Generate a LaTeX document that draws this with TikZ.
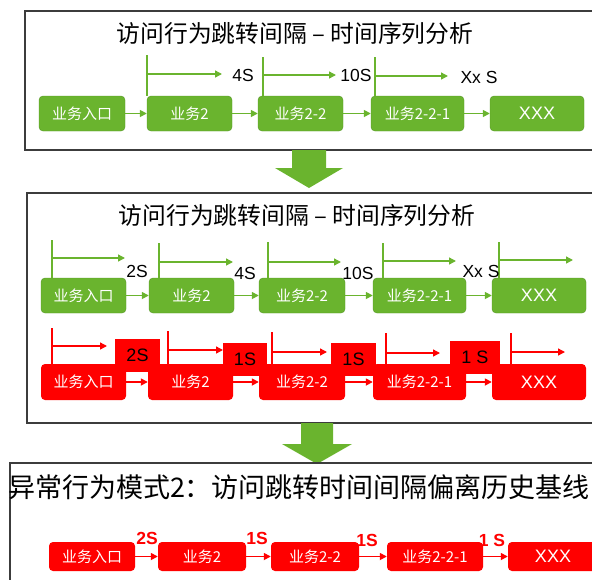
\documentclass[tikz,border=0pt]{standalone}
\usepackage{fontspec}
\setmainfont{Noto Sans CJK SC}
\newfontfamily\arial{Liberation Sans}
\usepackage{xcolor}
\usepackage{tikz}
\usetikzlibrary{arrows.meta,calc}
\definecolor{okgreen}{RGB}{106,180,46}
\definecolor{okgreenline}{RGB}{84,150,38}
\definecolor{framegray}{RGB}{60,60,60}

\begin{document}
\begin{tikzpicture}[x=1pt, y=-1pt,
  panel/.style={draw=framegray, line width=1.3pt},
  title/.style={font=\fontsize{23.8pt}{26pt}\selectfont, inner sep=0pt},
  gbox/.style={draw=okgreenline, fill=okgreen, rounded corners=4pt, text=white,
               font=\fontsize{15pt}{18pt}\selectfont, inner sep=0pt, minimum height=35pt},
  rbox/.style={fill=red, rounded corners=4pt, text=white,
               font=\fontsize{15pt}{18pt}\selectfont, inner sep=0pt, minimum height=36pt},
  dbox/.style={fill=red, rounded corners=4pt, text=white,
               font=\fontsize{15pt}{18pt}\selectfont, inner sep=0pt, minimum height=29pt},
  xfont/.style={font=\arial\fontsize{18pt}{20pt}\selectfont},
  garr/.style={draw=okgreen, line width=1.6pt, -{Triangle[length=7pt,width=7pt]}},
  rarr/.style={draw=red, line width=1.6pt, -{Triangle[length=7pt,width=7pt]}},
  gmark/.style={draw=okgreen, line width=1.4pt},
  rmark/.style={draw=red, line width=1.4pt},
  tab/.style={fill=red, inner sep=0pt, font=\arial\fontsize{18pt}{20pt}\selectfont},
  tlabel/.style={font=\arial\fontsize{17.5pt}{20pt}\selectfont, inner sep=0pt},
  dlabel/.style={font=\arial\bfseries\fontsize{17.5pt}{20pt}\selectfont, text=red, inner sep=0pt},
  blockarr/.style={fill=okgreen},
]
\useasboundingbox (0,0) rectangle (592,579);
\clip (0,0) rectangle (592,579);

% panel 1: normal jump intervals
\draw[panel] (25,11) rectangle (600,150);
\node[title] (t1) at (295,33) {访问行为跳转间隔 – 时间序列分析};

\node[gbox, minimum width=86pt] (A1) at (82,113.5)  {业务入口};
\node[gbox, minimum width=85pt] (A2) at (189.5,113.5) {业务2};
\node[gbox, minimum width=85pt] (A3) at (300.5,113.5) {业务2-2};
\node[gbox, minimum width=93pt] (A4) at (417.5,113.5) {业务2-2-1};
\node[gbox, minimum width=94pt, xfont] (A5) at (537,113.5) {XXX};
\foreach \a/\b in {A1/A2,A2/A3,A3/A4,A4/A5}{ \draw[garr] (\a.east) -- (\b.west); }

\foreach \i/\x/\t/\y/\e in {1/147/55/74/222, 2/263/57/75/336, 3/375/57/76/448}{
  \coordinate (at\i) at (\x,\t);
  \coordinate (ae\i) at (\e,\y);
  \draw[gmark] (at\i) -- (at\i |- A1.north);
  \draw[gmark, -{Triangle[length=7pt,width=7pt]}] (at\i |- ae\i) -- (ae\i);
}
\node[tlabel] (a4s)  at (243,75) {4S};
\node[tlabel] (a10s) at (356,75) {10S};
\node[tlabel] (axs)  at (479,77) {Xx S};

% first down arrow
\fill[blockarr] (292,150) -- (326,150) -- (326,168) -- (343,168) -- (309,188)
  -- (275,168) -- (292,168) -- cycle;

% panel 2: normal vs. abnormal
\draw[panel] (27,193) rectangle (600,423);
\node[title] (t2) at (297,215) {访问行为跳转间隔 – 时间序列分析};

\node[gbox, minimum width=85pt] (B1) at (83.5,295.5)  {业务入口};
\node[gbox, minimum width=85pt] (B2) at (191.5,295.5) {业务2};
\node[gbox, minimum width=86pt] (B3) at (302,295.5)   {业务2-2};
\node[gbox, minimum width=93pt] (B4) at (419.5,295.5) {业务2-2-1};
\node[gbox, minimum width=94pt, xfont] (B5) at (539,295.5) {XXX};
\foreach \a/\b in {B1/B2,B2/B3,B3/B4,B4/B5}{ \draw[garr] (\a.east) -- (\b.west); }

\foreach \i/\x/\t/\y/\e in {1/52/240/258/125, 2/159/243/262/233, 3/268/242/262/341,
                            4/383/243/261/456, 5/499/242/260/573}{
  \coordinate (bt\i) at (\x,\t);
  \coordinate (be\i) at (\e,\y);
  \draw[gmark] (bt\i) -- (bt\i |- B1.north);
  \draw[gmark, -{Triangle[length=7pt,width=7pt]}] (bt\i |- be\i) -- (be\i);
}
\node[tlabel] (b2s)  at (137,271) {2S};
\node[tlabel] (b4s)  at (245,273) {4S};
\node[tlabel] (b10s) at (358,273) {10S};
\node[tlabel] (bxs)  at (481,271) {Xx S};

\node[rbox, minimum width=85pt] (C1) at (83.5,382)  {业务入口};
\node[rbox, minimum width=85pt] (C2) at (190.5,382) {业务2};
\node[rbox, minimum width=86pt] (C3) at (302,382)   {业务2-2};
\node[rbox, minimum width=93pt] (C4) at (419.5,382) {业务2-2-1};
\node[rbox, minimum width=94pt, xfont] (C5) at (539,382) {XXX};
\foreach \a/\b in {C1/C2,C2/C3,C3/C4,C4/C5}{ \draw[rarr] (\a.east) -- (\b.west); }

% red tabs with the shorter intervals
\node[tab, minimum width=45pt, minimum height=33pt] (T1) at (137.5,355.5) {2S};
\node[tab, minimum width=44pt, minimum height=33pt] (T2) at (245,359.5)   {1S};
\node[tab, minimum width=45pt, minimum height=33pt] (T3) at (353.5,359.5) {1S};
\node[tab, minimum width=50pt, minimum height=33pt] (T4) at (475,357.5)   {1 S};

\foreach \i/\x/\t/\y/\e in {1/52/328/346/107, 2/168/331/350/223, 3/272/332/352/327,
                            4/386/333/353/440, 5/511/333/352/565}{
  \coordinate (ct\i) at (\x,\t);
  \coordinate (ce\i) at (\e,\y);
  \draw[rmark] (ct\i) -- (ct\i |- C1.north);
  \draw[rmark, -{Triangle[length=7pt,width=7pt]}] (ct\i |- ce\i) -- (ce\i);
}

% second down arrow
\fill[blockarr] (301,423) -- (333,423) -- (333,444) -- (352,444) -- (317,464)
  -- (282,444) -- (301,444) -- cycle;

% panel 3: anomaly pattern
\draw[panel] (10,463) rectangle (600,600);
\node[title, font=\fontsize{27pt}{30pt}\selectfont] (t3) at (299,487)
  {异常行为模式2：访问跳转时间间隔偏离历史基线};

\node[dbox, minimum width=86pt] (D1) at (92,556.5)  {业务入口};
\node[dbox, minimum width=88pt] (D2) at (202,556.5) {业务2};
\node[dbox, minimum width=88pt] (D3) at (315,556.5) {业务2-2};
\node[dbox, minimum width=96pt] (D4) at (435,556.5) {业务2-2-1};
\node[dbox, minimum width=90pt, xfont] (D5) at (553,556.5) {XXX};
\foreach \a/\b in {D1/D2,D2/D3,D3/D4,D4/D5}{ \draw[rarr] (\a.east) -- (\b.west); }

\node[dlabel] (d2s) at (147,538) {2S};
\node[dlabel] (d1s) at (257,538) {1S};
\node[dlabel] (d1t) at (367,540) {1S};
\node[dlabel] (d1u) at (492,540) {1 S};
\end{tikzpicture}
\end{document}
